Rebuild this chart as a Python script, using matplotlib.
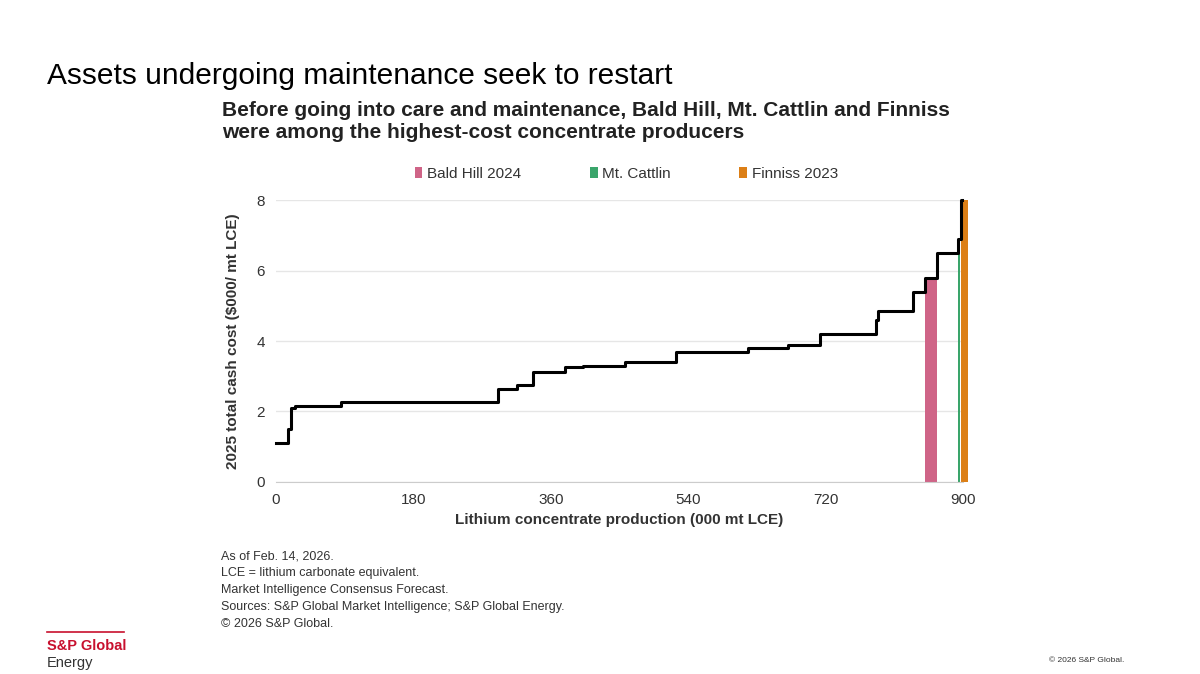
import numpy as np
import matplotlib.pyplot as plt

# cost curve: left edge of each step (000 mt LCE) and its cash cost ($000/mt LCE)
step_x = [0, 16, 19, 25, 85, 291, 316, 337, 379, 402, 457, 524, 618, 671, 713, 786, 789, 835, 850, 866, 893, 897, 899]
step_y = [1.1, 1.5, 2.1, 2.15, 2.28, 2.65, 2.75, 3.12, 3.25, 3.3, 3.4, 3.68, 3.8, 3.9, 4.2, 4.6, 4.85, 5.4, 5.8, 6.5, 6.9, 8.0, 8.0]

# highlighted assets
assets = ['Bald Hill 2024', 'Mt. Cattlin', 'Finniss 2023']
asset_start = [850, 893, 898]
asset_width = [16, 3, 8]
asset_cost = [5.8, 6.5, 8.0]
asset_colors = ['#cf6487', '#3aa56b', '#dc7f16']

fig = plt.figure(figsize=(12, 6.74), dpi=100)
plt.rcParams['font.family'] = ['Liberation Sans', 'DejaVu Sans']

fig.text(0.039, 0.875, 'Assets undergoing maintenance seek to restart', fontsize=21.5, color='black')
fig.text(0.185, 0.795, 'Before going into care and maintenance, Bald Hill, Mt. Cattlin and Finniss\n'
         'were among the highest-cost concentrate producers',
         fontsize=15, fontweight='bold', color='#222222', linespacing=1.2)

ax = fig.add_axes([0.23, 0.285, 0.5725, 0.418])
for name, x0, w, h, c in zip(assets, asset_start, asset_width, asset_cost, asset_colors):
    ax.bar(x0, h, width=w, align='edge', color=c, label=name, zorder=2, clip_on=False)
ax.plot(step_x, step_y, drawstyle='steps-post', color='black', lw=2.2, zorder=3, clip_on=False)

ax.set_xlim(0, 900)
ax.set_ylim(0, 8)
ax.set_xticks([0, 180, 360, 540, 720, 900])
ax.set_yticks([0, 2, 4, 6, 8])
ax.grid(axis='y', color='#e6e6e6', lw=1, zorder=0)
for s in ['top', 'right', 'left']:
    ax.spines[s].set_visible(False)
ax.spines['bottom'].set_color('#cccccc')
ax.tick_params(length=0, labelsize=11, colors='#333333', pad=8)
ax.set_xlabel('Lithium concentrate production (000 mt LCE)', fontsize=11, fontweight='bold', color='#333333', labelpad=4)
ax.set_ylabel('2025 total cash cost ($000/ mt LCE)', fontsize=11, fontweight='bold', color='#333333', labelpad=12)
ax.legend(loc='lower center', bbox_to_anchor=(0.51, 1.02), ncol=3, frameon=False, fontsize=11,
          handlelength=0.5, handleheight=0.7, handletextpad=0.3, columnspacing=4.5, labelcolor='#333333')

notes = ['As of Feb. 14, 2026.', 'LCE = lithium carbonate equivalent.', 'Market Intelligence Consensus Forecast.',
         'Sources: S&P Global Market Intelligence; S&P Global Energy.', '\u00a9 2026 S&P Global.']
fig.text(0.184, 0.07, '\n'.join(notes), fontsize=9, color='#333333', linespacing=1.55)

fig.add_artist(plt.Line2D([0.039, 0.103], [0.062, 0.062], transform=fig.transFigure, color='#c8102e', lw=1.2))
fig.text(0.039, 0.035, 'S&P Global', fontsize=10.5, fontweight='bold', color='#c8102e')
fig.text(0.039, 0.01, 'Energy', fontsize=10.5, color='#333333')
fig.text(0.937, 0.018, '\u00a9 2026 S&P Global.', fontsize=6, color='#333333', ha='right')

fig.savefig('out.png', dpi=100)
